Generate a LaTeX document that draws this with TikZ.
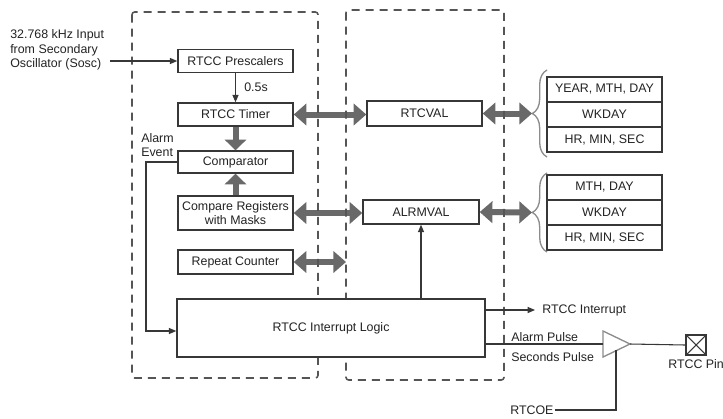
\documentclass[tikz,border=0pt]{standalone}
\usepackage{fontspec}
\setmainfont{Liberation Sans}
\usetikzlibrary{arrows.meta,calc,decorations.pathreplacing}
\definecolor{lineclr}{RGB}{55,55,55}
\definecolor{fatclr}{RGB}{105,105,105}
\definecolor{dashclr}{RGB}{85,85,85}
\definecolor{txtclr}{RGB}{35,35,35}
\definecolor{bufclr}{RGB}{140,140,140}
\begin{document}
\begin{tikzpicture}[x=0.75pt,y=0.75pt,yscale=-1,
    font=\fontsize{9.3}{11}\selectfont, text=txtclr,
    blk/.style={draw=lineclr,line width=1.1pt,fill=white,minimum width=86.25pt,inner sep=1pt,align=center},
    regbox/.style={blk,minimum height=18.75pt},
    dashbox/.style={draw=dashclr,line width=1.2pt,dash pattern=on 6pt off 4.5pt,rounded corners=2pt},
    fat/.style={draw=fatclr,line width=4.5pt,{Triangle[length=9.5pt,width=16pt]}-{Triangle[length=9.5pt,width=16pt]}},
    fatone/.style={draw=fatclr,line width=4.5pt,-{Triangle[length=8pt,width=16pt]}},
    thin/.style={draw=lineclr,line width=0.8pt,-{Triangle[length=5.5pt,width=4.5pt]}},
    wire/.style={draw=lineclr,line width=0.8pt},
    brc/.style={draw=bufclr,line width=1pt,decorate,decoration={brace,amplitude=11pt}}]
    \useasboundingbox (0,0) rectangle (723,418);

    % left column blocks
    \node[blk,minimum height=17.25pt] (pres) at (235.5,61) {RTCC Prescalers};
    \node[blk,minimum height=17.25pt] (timer) at (235.5,114.5) {RTCC Timer};
    \node[blk,minimum height=16.5pt] (comp) at (235.5,162) {Comparator};
    \node[blk,minimum height=25.5pt] (cmpreg) at (235.5,213) {Compare Registers\\with Masks};
    \node[blk,minimum height=18pt] (rpt) at (235.5,262) {Repeat Counter};

    % middle column
    \node[blk,minimum height=18.75pt] (rtcval) at (424.5,113.5) {RTCVAL};
    \node[blk,minimum width=87pt,minimum height=18pt] (alrm) at (421,212) {ALRMVAL};

    % register groups
    \node[regbox] (r1a) at (604.5,89.5) {YEAR, MTH, DAY};
    \node[regbox] (r1b) at (604.5,114.5) {WKDAY};
    \node[regbox] (r1c) at (604.5,139.5) {HR, MIN, SEC};
    \node[regbox] (r2a) at (604.5,187.5) {MTH, DAY};
    \node[regbox] (r2b) at (604.5,212.5) {WKDAY};
    \node[regbox] (r2c) at (604.5,237.5) {HR, MIN, SEC};
    \draw[brc] (547,157) -- coordinate[pos=0.5] (brc1) (547,70);
    \draw[brc] (547,252) -- coordinate[pos=0.5] (brc2) (547,173);

    % text nodes
    \node[anchor=west,align=left,inner sep=0.75pt] (osc) at (9,50) {32.768 kHz Input\\from Secondary\\Oscillator (Sosc)};
    \node[anchor=west,inner sep=0.75pt] (half) at (243,87) {0.5s};
    \node[anchor=west,align=left,inner sep=0.75pt] (alev) at (140,145) {Alarm\\Event};

    % fat buses
    \draw[fat] (timer.east) -- (timer.east -| rtcval.west);
    \draw[fat] (rtcval.east) -- ($(brc1)+(-15,0)$);
    \draw[fat] (cmpreg.east) -- (cmpreg.east -| alrm.west);
    \draw[fat] (alrm.east) -- ($(brc2)+(-15,0)$);
    \draw[fat] (rpt.east) -- (346,262);
    \draw[fatone] (timer.south) -- (comp.north);
    \draw[fatone] (cmpreg.north) -- (comp.south);

    % dashed regions
    \draw[dashbox] (132,12) rectangle (318,378);
    \draw[dashbox] (346,10) rectangle (504,380);

    \node[blk,minimum width=231pt,minimum height=43.5pt] (intl) at (331,328) {RTCC Interrupt Logic};

    % thin signals
    \coordinate (oscend) at (110,61);
    \draw[thin] (oscend) -- (pres.west);
    \draw[thin] (pres.south) -- (timer.north);
    \coordinate (evturn) at (146,331);
    \draw[thin] (comp.west) -| (evturn) -- (evturn -| intl.west);
    \draw[thin] (intl.north -| alrm.south) -- (alrm.south);

    % outputs
    \coordinate (irqout) at (535,310);
    \draw[thin] (intl.east |- irqout) -- (irqout);
    \node[anchor=west,inner sep=0.75pt] (irq) at (541,310) {RTCC Interrupt};

    \coordinate (bufin) at (603,344);
    \coordinate (bufout) at (630,344);
    \coordinate (bufen) at (616,350.3);
    \draw[draw=bufclr,line width=1pt,fill=white] (603,331) -- (bufout) -- (603,357) -- cycle;
    \draw[wire] (intl.east |- bufin) -- (bufin);
    \node[anchor=west,inner sep=0.75pt] (apulse) at (510,337) {Alarm Pulse};
    \node[anchor=west,inner sep=0.75pt] (spulse) at (510,357) {Seconds Pulse};

    \node[draw=lineclr,line width=1.1pt,minimum size=15pt,inner sep=0pt] (pin) at (696,345) {};
    \draw[wire] (pin.north west) -- (pin.south east);
    \draw[wire] (pin.south west) -- (pin.north east);
    \draw[wire] (bufout) -- (pin.west);
    \node[anchor=west,inner sep=0.75pt] (pinlbl) at (667,364) {RTCC Pin};

    \node[anchor=west,inner sep=0.75pt] (oe) at (509,410) {RTCOE};
    \draw[wire] (oe.east) -| (bufen);

\end{tikzpicture}
\end{document}
